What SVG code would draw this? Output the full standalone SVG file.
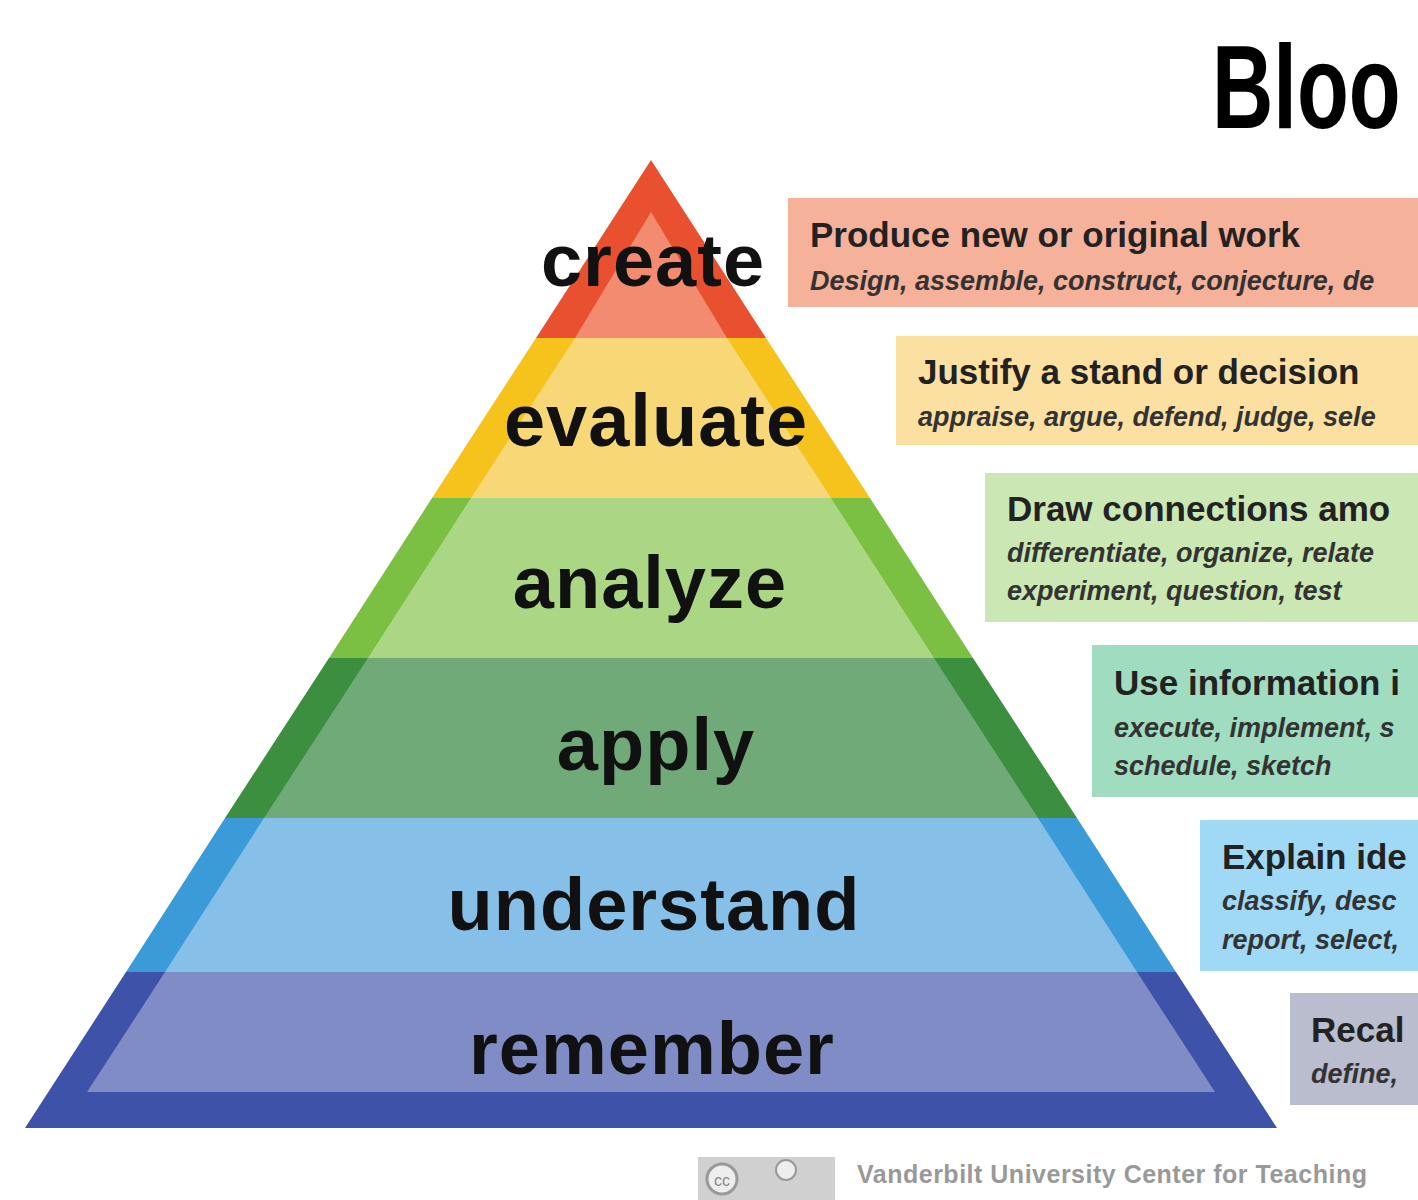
<svg xmlns="http://www.w3.org/2000/svg" width="1418" height="1200" viewBox="0 0 1418 1200">
<style>
.lvl{font-family:"Liberation Sans",Arial,sans-serif;font-weight:bold;font-size:74px;fill:#111;text-anchor:middle;letter-spacing:1px}
.h{font-family:"Liberation Sans",Arial,sans-serif;font-weight:bold;font-size:35px;fill:#222}
.i{font-family:"Liberation Sans",Arial,sans-serif;font-style:italic;font-weight:bold;font-size:27px;fill:#333}
</style>
<rect width="1418" height="1200" fill="#fff"/>
<text x="1212" y="128" font-family="Liberation Sans,Arial,sans-serif" font-weight="bold" font-size="118" transform="translate(1212 0) scale(0.72 1) translate(-1212 0)" fill="#000">Bloo</text>
<g id="create">
<polygon points="651,160 766,338 536,338" fill="#e8502f"/>
<polygon points="651,212 727,338 575,338" fill="#f28b70"/>
<text class="lvl" x="653" y="286">create</text>
<rect x="788" y="198" width="640" height="109" fill="#f6b19b"/>
<text class="h" x="810" y="247">Produce new or original work</text>
<text class="i" x="810" y="290">Design, assemble, construct, conjecture, de</text>
</g>
<g id="evaluate">
<polygon points="536,338 766,338 870,498 432,498" fill="#f6c21c"/>
<polygon points="575,338 727,338 831,498 471,498" fill="#f8d876"/>
<text class="lvl" x="656" y="446">evaluate</text>
<rect x="896" y="336" width="530" height="109" fill="#fbe0a2"/>
<text class="h" x="918" y="384">Justify a stand or decision</text>
<text class="i" x="918" y="426">appraise, argue, defend, judge, sele</text>
</g>
<g id="analyze">
<polygon points="432,498 870,498 973,658 329,658" fill="#7bc043"/>
<polygon points="471,498 831,498 934,658 368,658" fill="#abd785"/>
<text class="lvl" x="650" y="608">analyze</text>
<rect x="985" y="473" width="440" height="149" fill="#cbe7b4"/>
<text class="h" x="1007" y="521">Draw connections amo</text>
<text class="i" x="1007" y="562">differentiate, organize, relate</text>
<text class="i" x="1007" y="600">experiment, question, test</text>
</g>
<g id="apply">
<polygon points="329,658 973,658 1077,818 225,818" fill="#3b8f3f"/>
<polygon points="368,658 934,658 1038,818 264,818" fill="#70aa79"/>
<text class="lvl" x="656" y="770">apply</text>
<rect x="1092" y="645" width="335" height="152" fill="#a0dcc0"/>
<text class="h" x="1114" y="695">Use information i</text>
<text class="i" x="1114" y="737">execute, implement, s</text>
<text class="i" x="1114" y="775">schedule, sketch</text>
</g>
<g id="understand">
<polygon points="225,818 1077,818 1176,972 126,972" fill="#3b9bd9"/>
<polygon points="264,818 1038,818 1137,972 165,972" fill="#86c0e8"/>
<text class="lvl" x="654" y="930">understand</text>
<rect x="1200" y="820" width="225" height="151" fill="#a0d9f5"/>
<text class="h" x="1222" y="869">Explain ide</text>
<text class="i" x="1222" y="910">classify, desc</text>
<text class="i" x="1222" y="949">report, select,</text>
</g>
<g id="remember">
<polygon points="126,972 1176,972 1277,1128 25,1128" fill="#3d52a8"/>
<polygon points="165,972 1137,972 1215,1092 87,1092" fill="#808cc5"/>
<text class="lvl" x="652" y="1074">remember</text>
<rect x="1290" y="993" width="135" height="112" fill="#b9bdcd"/>
<text class="h" x="1311" y="1042">Recal</text>
<text class="i" x="1311" y="1083">define,</text>
</g>
<g id="footer">
<rect x="698" y="1157" width="137" height="43" fill="#d0d0d0"/>
<circle cx="722" cy="1179" r="15" fill="#eee" stroke="#999" stroke-width="3"/>
<text x="722" y="1186" font-family="Liberation Sans,Arial,sans-serif" font-size="16" fill="#888" text-anchor="middle">cc</text>
<circle cx="786" cy="1170" r="10" fill="#eee" stroke="#999" stroke-width="2"/>
<text x="857" y="1183" font-family="Liberation Sans,Arial,sans-serif" font-weight="bold" font-size="25" fill="#999" letter-spacing="0.5">Vanderbilt University Center for Teaching</text>
</g>
<g id="connectors"/>
</svg>
